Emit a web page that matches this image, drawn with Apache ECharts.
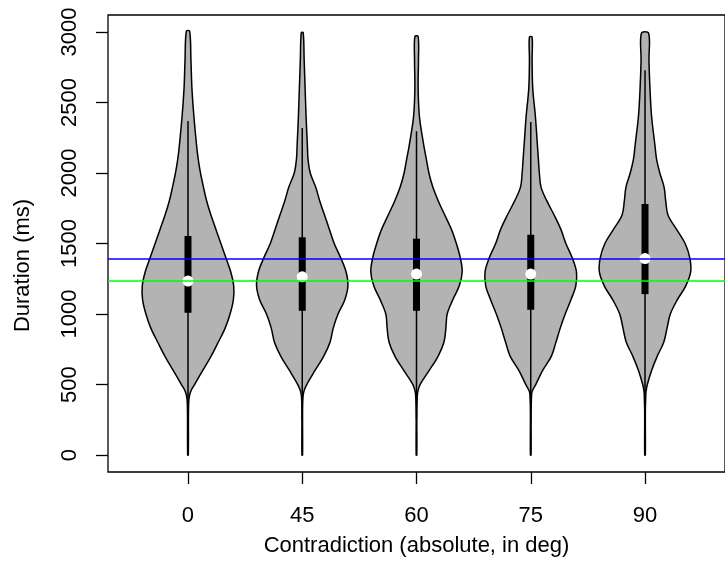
<!DOCTYPE html>
<html>
<head>
<meta charset="utf-8">
<script src="https://cdn.jsdelivr.net/npm/echarts@6/dist/echarts.min.js"></script>
<style>
html,body{margin:0;padding:0;background:#fff;}
#chart{width:725px;height:562px;}
</style>
</head>
<body>
<div id="chart"></div>
<script>
// ---- data ----
const categories = ['0', '45', '60', '75', '90'];
const positions = [1, 2, 3, 4, 5];
const yTicks = [0, 500, 1000, 1500, 2000, 2500, 3000];
// density profile levels (ms); last density entry of each violin is at its max value
const levels = [0, 300, 400, 450, 500, 600, 700, 800, 900, 1000, 1100, 1200, 1300, 1400, 1500, 1600, 1700, 1800, 1900, 2000, 2100, 2200, 2400, 2600, 2800];
const maxValues = [3005, 2995, 2967, 2963, 2991];
const density0  = [1, 1.5, 3, 8, 20, 45, 70, 92, 113, 128, 138, 139, 130, 115, 100, 85, 70, 57, 47, 38, 31, 26, 18, 12, 9, 5];
const density45 = [1, 1, 2, 5, 14, 40, 67, 87, 97, 112, 133, 143, 137, 120, 100, 85, 70, 55, 42, 25, 18, 16, 12, 9, 6, 3];
const density60 = [1, 1, 2, 4, 11, 39, 66, 84, 90, 94, 111, 131, 140, 134, 122, 107, 87, 67, 50, 38, 30, 22, 9, 5, 6, 5];
const density75 = [1, 1, 2, 4, 15, 36, 62, 76, 89, 104, 121, 136, 138, 125, 106, 91, 71, 49, 31, 26, 23, 20, 14, 6, 4, 4];
const density90 = [1, 1, 2, 3, 7, 20, 37, 57, 67, 77, 98, 124, 139, 136, 122, 96, 70, 63, 58, 45, 35, 30, 20, 15, 12, 11];
const densities = [density0, density45, density60, density75, density90];
const minValues = [0, 0, 0, 0, 0];
const lowerWhisker = [193, 241, 256, 232, 183];
const q1 = [1009, 1023, 1023, 1030, 1141];
const medians = [1234, 1264, 1283, 1283, 1393];
const q3 = [1553, 1544, 1534, 1562, 1780];
const upperWhisker = [2368, 2318, 2295, 2361, 2728];
const blueLine = 1391;
const greenLine = 1234;

// ---- chart ----
const FONT = '"Liberation Sans", Arial, Helvetica, sans-serif';
const FS = 22;
const chart = echarts.init(document.getElementById('chart'), null, {renderer: 'canvas'});

function renderViolin(params, api) {
  const i = params.dataIndex;
  const x = positions[i];
  const d = densities[i];
  const dmax = Math.max.apply(null, d);
  const halfMax = 0.4;
  const ys = levels.concat([maxValues[i]]);
  ys[0] = minValues[i];
  const right = [], left = [];
  for (let k = 0; k < ys.length; k++) {
    const w = halfMax * d[k] / dmax;
    right.push(api.coord([x + w, ys[k]]));
    left.push(api.coord([x - w, ys[k]]));
  }
  const pts = right.concat(left.reverse());
  const cTop = api.coord([x, upperWhisker[i]]);
  const cLow = api.coord([x, lowerWhisker[i]]);
  const bTop = api.coord([x, q3[i]]);
  const bBot = api.coord([x, q1[i]]);
  const med = api.coord([x, medians[i]]);
  return {
    type: 'group',
    children: [
      {type: 'polygon', shape: {points: pts, smooth: 0.35},
       style: {fill: '#b3b3b3', stroke: '#000', lineWidth: 1.5}},
      {type: 'line', shape: {x1: cTop[0], y1: cTop[1], x2: cLow[0], y2: cLow[1]},
       style: {stroke: '#000', lineWidth: 1.5}},
      {type: 'rect', shape: {x: bTop[0] - 3.5, y: bTop[1], width: 7, height: bBot[1] - bTop[1]},
       style: {fill: '#000'}},
      {type: 'circle', shape: {cx: med[0], cy: med[1], r: 5.5},
       style: {fill: '#fff'}}
    ]
  };
}

const option = {
  animation: false,
  backgroundColor: '#fff',
  grid: {left: 108, top: 15, width: 628, height: 461, show: true,
         borderColor: '#000', borderWidth: 1.3},
  xAxis: {
    type: 'value', min: 0.3, max: 5.7,
    axisLine: {show: false, onZero: false}, splitLine: {show: false},
    axisTick: {show: true, length: 12, customValues: positions, lineStyle: {color: '#000', width: 1.3}},
    axisLabel: {customValues: positions, margin: 33, fontSize: FS, color: '#000', fontFamily: FONT,
                formatter: function (v) { return categories[Math.round(v) - 1]; }},
    name: 'Contradiction (absolute, in deg)', nameLocation: 'middle', nameGap: 63,
    nameTextStyle: {fontSize: FS, color: '#000', fontFamily: FONT}
  },
  yAxis: {
    type: 'value', min: -120, max: 3120,
    axisLine: {show: false, onZero: false}, splitLine: {show: false},
    axisTick: {show: true, length: 12, customValues: yTicks, lineStyle: {color: '#000', width: 1.3}},
    axisLabel: {customValues: yTicks, rotate: 90, margin: 27, fontSize: FS, color: '#000', fontFamily: FONT,
                formatter: function (v) { return String(v); }},
    name: 'Duration (ms)', nameLocation: 'middle', nameGap: 74, nameRotate: 90,
    nameTextStyle: {fontSize: FS, color: '#000', fontFamily: FONT, padding: [0, 44, 0, 0]}
  },
  series: [
    {type: 'custom', renderItem: renderViolin, data: positions.map(function (p) { return [p]; }),
     clip: false, z: 2},
    {type: 'line', data: [], z: 5, symbol: 'none',
     markLine: {silent: true, symbol: 'none', label: {show: false}, animation: false,
       data: [
         {yAxis: blueLine, lineStyle: {color: '#0000ff', width: 1.6, type: 'solid'}},
         {yAxis: greenLine, lineStyle: {color: '#00ff00', width: 1.6, type: 'solid'}}
       ]}}
  ]
};
chart.setOption(option);
</script>
</body>
</html>
